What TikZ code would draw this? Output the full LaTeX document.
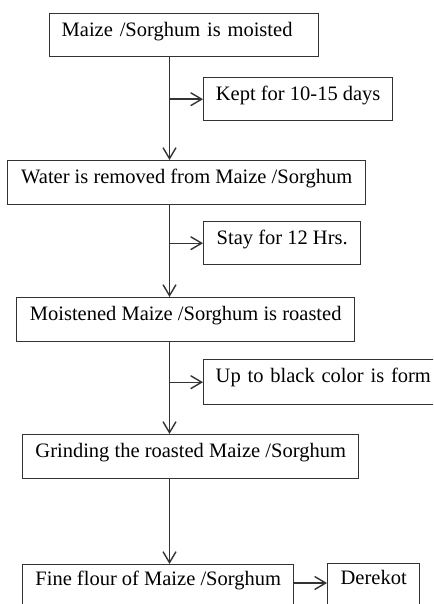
\documentclass[tikz,border=0pt]{standalone}
\usepackage{fontspec}
\setmainfont{Liberation Serif}
\usetikzlibrary{arrows.meta}

\begin{document}
\begin{tikzpicture}[x=1pt,y=-1pt,->,>={Straight Barb[length=11pt,width=13pt]},line width=1.4pt,draw=black!80]
\tikzstyle{every node}=[font=\fontsize{20.5}{24}\selectfont,text=black]
\tikzstyle{stepbox}=[draw=black!80,anchor=north west,inner xsep=0pt,inner ysep=0pt,text height=23pt,text depth=21pt]
\useasboundingbox (0,0) rectangle (433,604);
\clip (0,0) rectangle (433,604);
\coordinate (t) at (169.5,0);
\node[stepbox,inner xsep=12pt,text width=245pt,align=left,text depth=20pt] (A) at (49,13) {Maize /Sorghum is moisted};
\node[stepbox,minimum width=189pt,text depth=20pt] (K) at (203,77) {Kept for 10-15 days};
\node[stepbox,minimum width=358pt] (B) at (7,160) {Water is removed from Maize /Sorghum};
\node[stepbox,minimum width=157pt,text depth=20pt] (S) at (203,221) {Stay for 12 Hrs.};
\node[stepbox,minimum width=338pt] (C) at (16,297) {Moistened Maize /Sorghum is roasted};
\node[stepbox,inner xsep=12pt,text width=225pt,align=left,text depth=22pt] (U) at (203,359) {Up to black color is form};
\node[stepbox,minimum width=336pt] (D) at (22,434) {Grinding the roasted Maize /Sorghum};
\node[stepbox,minimum width=271pt,text height=21pt,text depth=39pt] (F) at (22,564) {Fine flour of Maize /Sorghum};
\node[stepbox,minimum width=92pt,text height=21pt,text depth=39pt] (E) at (327,563) {Derekot};
\coordinate (f) at ([yshift=-19pt]F.north east);
\path (A.south -| t) edge (B.north -| t)
      (K.west -| t) edge (K.west)
      (B.south -| t) edge (C.north -| t)
      (S.west -| t) edge (S.west)
      (C.south -| t) edge (D.north -| t)
      (U.west -| t) edge (U.west)
      (D.south -| t) edge (F.north -| t)
      (f) edge (f -| E.west);
\end{tikzpicture}
\end{document}
